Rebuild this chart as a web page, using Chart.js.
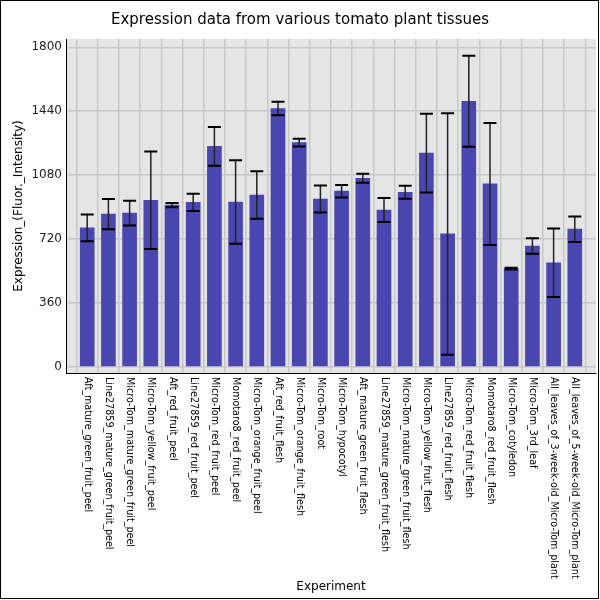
<!DOCTYPE html>
<html>
<head>
<meta charset="utf-8">
<script src="https://cdn.jsdelivr.net/npm/chart.js@4"></script>
<style>
  html, body { margin: 0; padding: 0; background: #fff; }
  canvas { display: block; }
</style>
</head>
<body>
<canvas id="chart" width="600" height="600"></canvas>
<script>
// data
const experiments = [
    'Aft_mature_green_fruit_peel',
    'Line27859_mature_green_fruit_peel',
    'Micro-Tom_mature_green_fruit_peel',
    'Micro-Tom_yellow_fruit_peel',
    'Aft_red_fruit_peel',
    'Line27859_red_fruit_peel',
    'Micro-Tom_red_fruit_peel',
    'Momotaro8_red_fruit_peel',
    'Micro-Tom_orange_fruit_peel',
    'Aft_red_fruit_flesh',
    'Micro-Tom_orange_fruit_flesh',
    'Micro-Tom_root',
    'Micro-Tom_hypocotyl',
    'Aft_mature_green_fruit_flesh',
    'Line27859_mature_green_fruit_flesh',
    'Micro-Tom_mature_green_fruit_flesh',
    'Micro-Tom_yellow_fruit_flesh',
    'Line27859_red_fruit_flesh',
    'Micro-Tom_red_fruit_flesh',
    'Momotaro8_red_fruit_flesh',
    'Micro-Tom_cotyledon',
    'Micro-Tom_3rd_leaf',
    'All_leaves_of_3-week-old_Micro-Tom_plant',
    'All_leaves_of_5-week-old_Micro-Tom_plant'
];
const expression = [
    782, 860, 865, 938, 910, 926, 1242, 928, 967, 1455, 1263, 945,
    989, 1062, 883, 983, 1204, 748, 1496, 1030, 553, 680, 585, 775
];
const stdDev = [
    75, 85, 70, 275, 12, 48, 109, 236, 134, 38, 22, 76,
    35, 25, 68, 37, 222, 681, 256, 344, 5, 43, 193, 72
];
const yTicks = [0, 360, 720, 1080, 1440, 1800];

const barColor = '#4a46b0';
const gridColor = '#c8c8c8';

const plotBackground = {
    id: 'plotBackground',
    beforeDraw(chart) {
        const {ctx, chartArea: a} = chart;
        ctx.save();
        ctx.fillStyle = '#e5e5e5';
        ctx.fillRect(a.left, a.top, a.right - a.left, a.bottom - a.top);
        ctx.restore();
    },
    afterDraw(chart) {
        const ctx = chart.ctx;
        ctx.save();
        ctx.strokeStyle = '#000';
        ctx.lineWidth = 1;
        ctx.strokeRect(0.5, 0.5, 598, 598);
        ctx.restore();
    }
};

// error bars: mean +/- sd
const errorBars = {
    id: 'errorBars',
    afterDatasetsDraw(chart) {
        const {ctx, scales: {x, y}} = chart;
        ctx.save();
        expression.forEach((v, i) => {
            const px = x.getPixelForValue(i);
            const top = y.getPixelForValue(v + stdDev[i]);
            const bot = y.getPixelForValue(v - stdDev[i]);
            ctx.strokeStyle = '#222';
            ctx.lineWidth = 1.5;
            ctx.beginPath();
            ctx.moveTo(px, top);
            ctx.lineTo(px, bot);
            ctx.stroke();
            ctx.strokeStyle = '#000';
            ctx.lineWidth = 2;
            ctx.beginPath();
            ctx.moveTo(px - 6.5, top);
            ctx.lineTo(px + 6.5, top);
            ctx.moveTo(px - 6.5, bot);
            ctx.lineTo(px + 6.5, bot);
            ctx.stroke();
        });
        ctx.restore();
    }
};

// category labels, rotated clockwise (read top to bottom)
const xLabels = {
    id: 'xLabels',
    afterDraw(chart) {
        const {ctx, scales: {x}, chartArea} = chart;
        ctx.save();
        ctx.fillStyle = '#000';
        ctx.font = '9.6px "DejaVu Sans"';
        ctx.textAlign = 'left';
        ctx.textBaseline = 'middle';
        experiments.forEach((label, i) => {
            ctx.save();
            ctx.translate(x.getPixelForValue(i), chartArea.bottom + 4);
            ctx.rotate(Math.PI / 2);
            ctx.fillText(label, 0, 0);
            ctx.restore();
        });
        ctx.restore();
    }
};

new Chart(document.getElementById('chart'), {
    type: 'bar',
    data: {
        datasets: [{
            label: 'Expression',
            data: expression.map((v, i) => ({x: i, y: v})),
            backgroundColor: barColor,
            borderWidth: 0,
            barThickness: 14
        }]
    },
    options: {
        responsive: false,
        animation: false,
        devicePixelRatio: 1,
        layout: {padding: {left: 4, right: 4, top: 0, bottom: 6}},
        plugins: {
            legend: {display: false},
            tooltip: {enabled: false},
            title: {
                display: true,
                text: 'Expression data from various tomato plant tissues',
                color: '#000',
                font: {family: 'DejaVu Sans', size: 15, weight: 'normal'},
                padding: {top: 11, bottom: 10}
            }
        },
        scales: {
            x: {
                type: 'linear',
                min: -1,
                max: 24,
                offset: false,
                ticks: {display: false, stepSize: 1},
                grid: {color: gridColor, lineWidth: 1.5, drawTicks: false},
                border: {display: true, color: '#000', width: 1},
                title: {
                    display: true,
                    text: 'Experiment',
                    color: '#000',
                    font: {family: 'DejaVu Sans', size: 12},
                    padding: {top: 0, bottom: 0}
                },
                afterFit(scale) { scale.height = 221; }
            },
            y: {
                min: -36,
                max: 1847,
                afterBuildTicks(scale) { scale.ticks = yTicks.map(v => ({value: v})); },
                ticks: {
                    color: '#222',
                    font: {family: 'DejaVu Sans', size: 12},
                    padding: 4,
                    callback: v => String(v)
                },
                grid: {color: gridColor, lineWidth: 1.5, drawTicks: false},
                border: {display: true, color: '#000', width: 1},
                title: {
                    display: true,
                    text: 'Expression_(Fluor._Intensity)',
                    color: '#000',
                    font: {family: 'DejaVu Sans', size: 12},
                    padding: {top: 8, bottom: 0}
                },
                afterFit(scale) { scale.width = 62; }
            }
        }
    },
    plugins: [plotBackground, errorBars, xLabels]
});
</script>
</body>
</html>
